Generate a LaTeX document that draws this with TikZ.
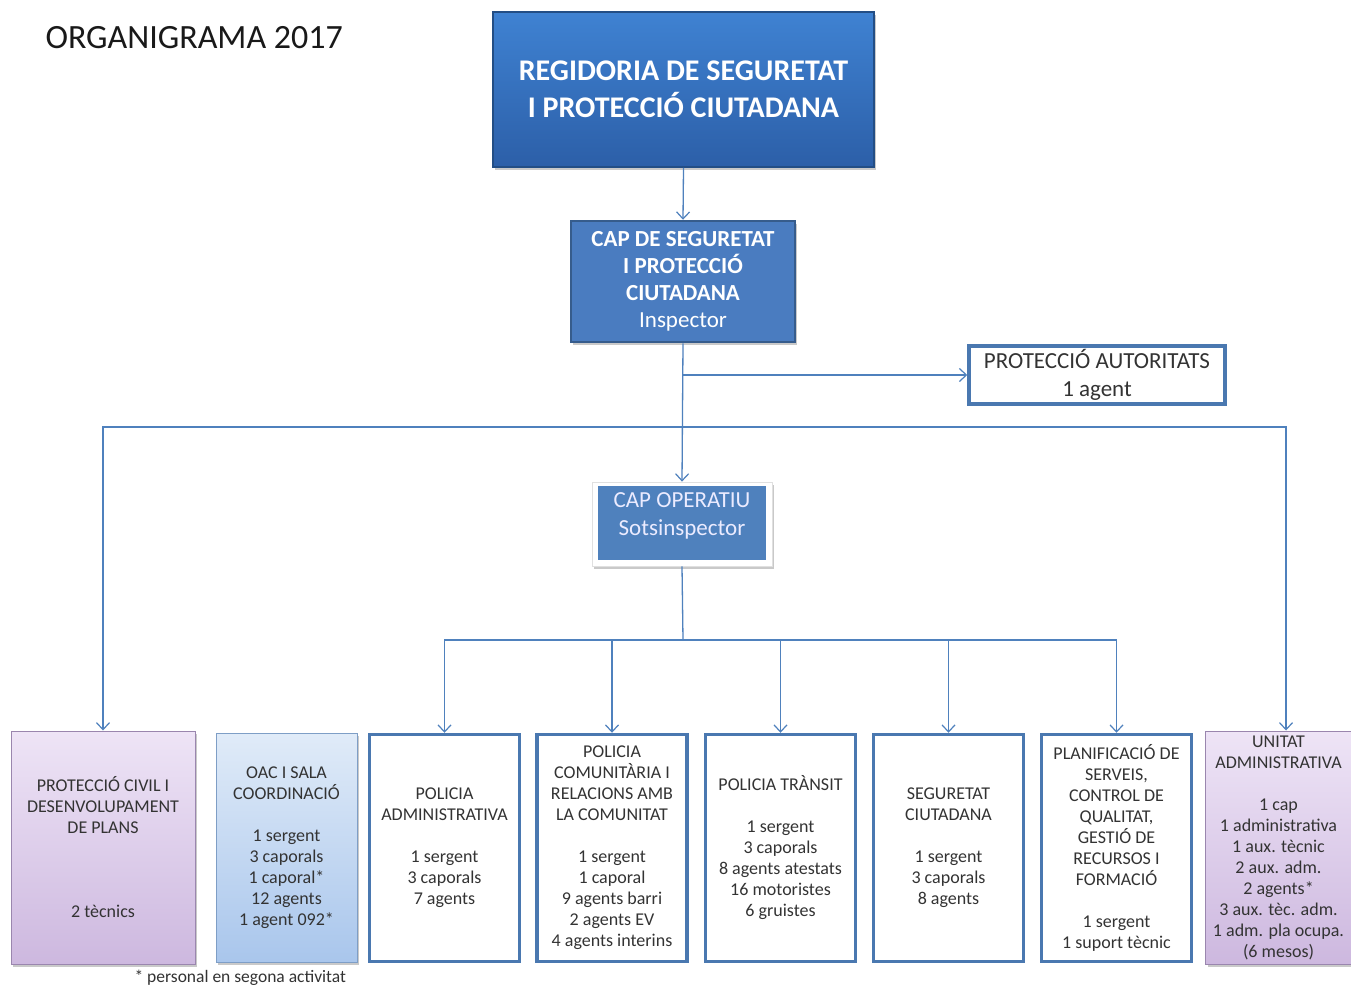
\documentclass[tikz,border=0pt]{standalone}
\usepackage{fontspec}
\setmainfont{Carlito}
\usetikzlibrary{arrows.meta,shadows}
\definecolor{lineblue}{HTML}{4F81BD}
\definecolor{boxborder}{HTML}{4A78B0}
\definecolor{txt}{HTML}{333333}
\definecolor{topA}{HTML}{3F82D2}
\definecolor{topB}{HTML}{2C5FA8}
\definecolor{topBorder}{HTML}{234E85}
\definecolor{capFill}{HTML}{4A7CC0}
\definecolor{capBorder}{HTML}{365C8C}
\definecolor{lilA}{HTML}{EEE4F6}
\definecolor{lilB}{HTML}{CDB8DF}
\definecolor{lilBorder}{HTML}{9A86AE}
\definecolor{ltbA}{HTML}{E0EBF8}
\definecolor{ltbB}{HTML}{A9C6EC}
\definecolor{ltbBorder}{HTML}{7E9EC6}
\tikzset{
  conn/.style={draw=lineblue, line width=1.3pt},
  arr/.style={conn, -{Straight Barb[length=7pt,width=13pt,line width=1.2pt]}},
  shad/.style={drop shadow={shadow xshift=2pt, shadow yshift=-3pt, opacity=0.35, fill=black!60}},
  boxtext/.style={inner sep=0pt, align=center, text=txt, font=\fontsize{18}{21}\selectfont},
  whitebox/.style={boxtext, draw=boxborder, line width=3.5pt, fill=white, minimum width=150pt, minimum height=227pt},
  lilbox/.style={boxtext, draw=lilBorder, line width=1pt, top color=lilA, bottom color=lilB, shad},
  ltbbox/.style={boxtext, draw=ltbBorder, line width=1pt, top color=ltbA, bottom color=ltbB, shad},
}
\begin{document}
\begin{tikzpicture}[x=1pt,y=-1pt]
\useasboundingbox (0,0) rectangle (1351,986);
\fill[white] (0,0) rectangle (1351,986);

\node[anchor=west, font=\fontsize{34}{40}\selectfont, text=black!90] (title) at (42,38) {ORGANIGRAMA 2017};

\node[shad, draw=topBorder, line width=1.5pt, top color=topA, bottom color=topB, minimum width=381pt, minimum height=155pt, inner sep=0pt, align=center, text=white, font=\fontsize{30}{37}\selectfont\bfseries] (reg) at (683.5,89.5) {REGIDORIA DE SEGURETAT\\I PROTECCIÓ CIUTADANA};

\node[shad, draw=capBorder, line width=2.5pt, fill=capFill, minimum width=224pt, minimum height=121pt, inner sep=0pt, align=center, text=white, font=\fontsize{23}{27}\selectfont] (cap) at (683,281.5) {\textbf{CAP DE SEGURETAT}\\\textbf{I PROTECCIÓ}\\\textbf{CIUTADANA}\\Inspector};

\node[draw=boxborder, line width=3.5pt, fill=white, minimum width=256pt, minimum height=58pt, inner sep=0pt, align=center, text=txt, font=\fontsize{23}{28}\selectfont] (prot) at (1097,375) {PROTECCIÓ AUTORITATS\\1 agent};

\node[shad, draw=black!12, line width=0.8pt, fill=white, minimum width=180pt, minimum height=84pt, inner sep=0pt] (capop) at (682,524) {};
\node[fill=lineblue, minimum width=168pt, minimum height=74pt, inner sep=0pt] (capopin) at (682,523) {};
\node[inner sep=0pt, align=center, text=white!92!blue, font=\fontsize{23}{28}\selectfont] (capoptxt) at (682,516) {CAP OPERATIU\\Sotsinspector};

% bottom boxes
\node[lilbox, minimum width=184pt, minimum height=233pt] (pc) at (103,847.5) {PROTECCIÓ CIVIL I\\DESENVOLUPAMENT\\DE PLANS\\~\\~\\~\\2 tècnics};
\node[ltbbox, minimum width=141pt, minimum height=229pt] (oac) at (286.5,847.5) {OAC I SALA\\COORDINACIÓ\\~\\1 sergent\\3 caporals\\1 caporal*\\12 agents\\1 agent 092*};
\node[whitebox] (pa) at (444.5,848) {POLICIA\\ADMINISTRATIVA\\~\\1 sergent\\3 caporals\\7 agents};
\node[whitebox] (pcom) at (612,848) {POLICIA\\COMUNITÀRIA I\\RELACIONS AMB\\LA COMUNITAT\\~\\1 sergent\\1 caporal\\9 agents barri\\2 agents EV\\4 agents interins};
\node[whitebox] (pt) at (780.5,848) {POLICIA TRÀNSIT\\~\\1 sergent\\3 caporals\\8 agents atestats\\16 motoristes\\6 gruistes};
\node[whitebox] (sc) at (948.5,848) {SEGURETAT\\CIUTADANA\\~\\1 sergent\\3 caporals\\8 agents};
\node[whitebox] (plan) at (1116.5,848) {PLANIFICACIÓ DE\\SERVEIS,\\CONTROL DE\\QUALITAT,\\GESTIÓ DE\\RECURSOS I\\FORMACIÓ\\~\\1 sergent\\1 suport tècnic};
\node[lilbox, minimum width=146pt, minimum height=233pt] (ua) at (1278.5,847.5) {UNITAT\\ADMINISTRATIVA\\~\\1 cap\\1 administrativa\\1 aux. tècnic\\2 aux. adm.\\2 agents*\\3 aux. tèc. adm.\\1 adm. pla ocupa.\\(6 mesos)};

\node[anchor=west, font=\fontsize{17.5}{20}\selectfont, text=txt] (foot) at (131,978) {* personal en segona activitat};

% connectors
\coordinate (j1) at (683,375);
\coordinate (j2) at (683,427);
\coordinate (j3) at (683,640);
\draw[arr] (reg.south) -- (cap.north);
\draw[arr] (cap.south) -- (capop.north);
\draw[arr] (j1) -- (prot.west);
\draw[arr] (j2) -| (pc.north);
\draw[arr] (j2) -| ([xshift=7.5pt]ua.north);
\draw[conn] (capop.south) -- (j3);
\draw[arr] (j3) -| (pa.north);
\draw[arr] (j3) -| (pcom.north);
\draw[arr] (j3) -| (pt.north);
\draw[arr] (j3) -| (sc.north);
\draw[arr] (j3) -| (plan.north);
\end{tikzpicture}
\end{document}
